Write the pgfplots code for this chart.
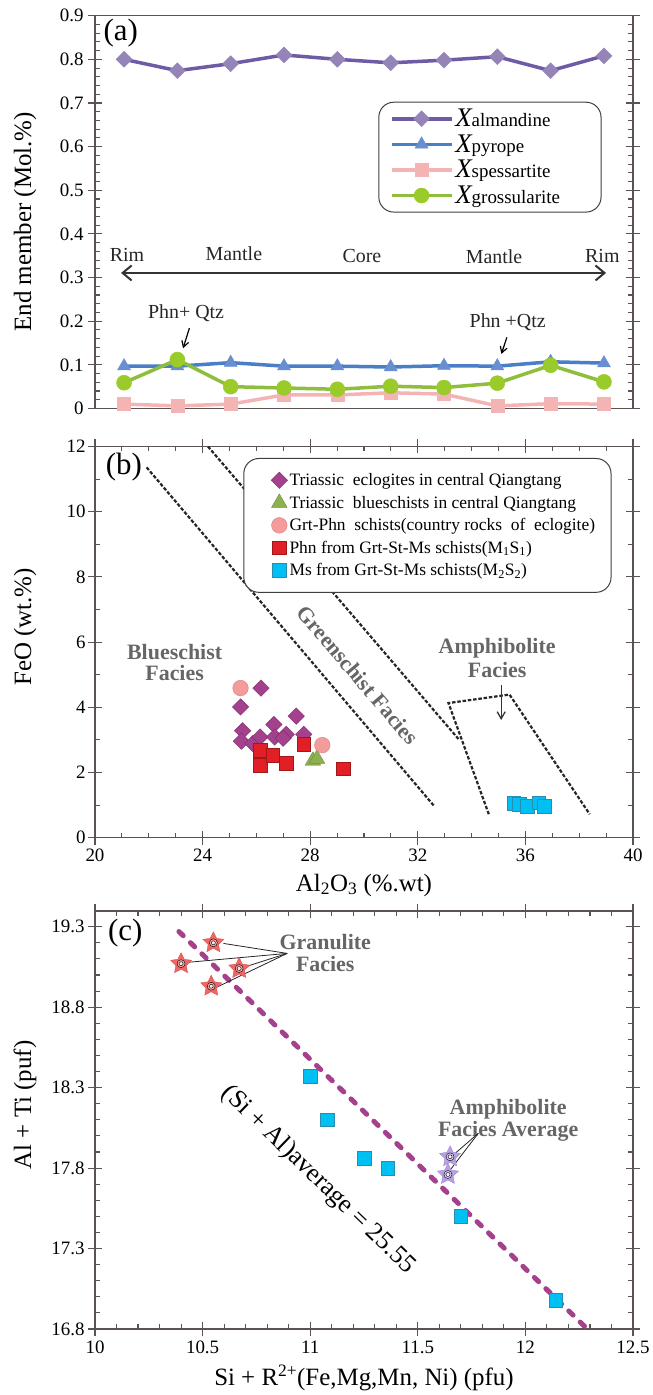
\documentclass[border=0pt]{standalone}
\usepackage{fontspec}
\setmainfont{Liberation Serif}
\usepackage{pgfplots}
\pgfplotsset{compat=1.18}
\usetikzlibrary{arrows.meta}

\definecolor{almL}{HTML}{6E5BA5}
\definecolor{almM}{HTML}{9584B8}
\definecolor{pyrL}{HTML}{4A7EC6}
\definecolor{pyrM}{HTML}{6A8FD1}
\definecolor{spe}{HTML}{F4B4B4}
\definecolor{groL}{HTML}{8FBE3C}
\definecolor{groM}{HTML}{9ACB2A}
\definecolor{framec}{HTML}{5A5352}
\definecolor{ecl}{HTML}{A3418D}
\definecolor{eclD}{HTML}{7E2F6E}
\definecolor{blu}{HTML}{8DB050}
\definecolor{grt}{HTML}{F49C9C}
\definecolor{grtD}{HTML}{D98080}
\definecolor{phn}{HTML}{E21F26}
\definecolor{phnD}{HTML}{A01818}
\definecolor{msc}{HTML}{00BFF2}
\definecolor{mscD}{HTML}{2A8DB0}
\definecolor{facies}{HTML}{666666}
\definecolor{fitline}{HTML}{A4408C}
\definecolor{starR}{HTML}{EE6666}
\definecolor{starRD}{HTML}{DE5050}
\definecolor{starRM}{HTML}{F5A2A2}
\definecolor{starRL}{HTML}{FDE8E8}
\definecolor{starP}{HTML}{B8A0E4}
\definecolor{starPD}{HTML}{A088CE}
\definecolor{starPM}{HTML}{D6C8F2}
\definecolor{starPL}{HTML}{F7F3FD}

\pgfdeclareplotmark{fstar}{%
 \pgfpathmoveto{\pgfpointpolar{90}{\pgfplotmarksize}}%
 \pgfpathlineto{\pgfpointpolar{126}{0.5\pgfplotmarksize}}%
 \pgfpathlineto{\pgfpointpolar{162}{\pgfplotmarksize}}%
 \pgfpathlineto{\pgfpointpolar{198}{0.5\pgfplotmarksize}}%
 \pgfpathlineto{\pgfpointpolar{234}{\pgfplotmarksize}}%
 \pgfpathlineto{\pgfpointpolar{270}{0.5\pgfplotmarksize}}%
 \pgfpathlineto{\pgfpointpolar{306}{\pgfplotmarksize}}%
 \pgfpathlineto{\pgfpointpolar{342}{0.5\pgfplotmarksize}}%
 \pgfpathlineto{\pgfpointpolar{18}{\pgfplotmarksize}}%
 \pgfpathlineto{\pgfpointpolar{54}{0.5\pgfplotmarksize}}%
 \pgfpathclose
 \pgfusepathqfillstroke}

\pgfplotsset{
  every axis/.append style={
    scale only axis, width=538bp,
    axis line style={framec, line width=1.2bp},
    tick style={framec, line width=1.1bp},
    tick align=inside, major tick length=7bp, minor tick length=5bp,
    tick label style={font=\fontsize{19}{21}\selectfont},
    label style={font=\fontsize{25}{27}\selectfont},
    /pgf/number format/assume math mode=true,
    extra tick style={tick align=outside},
  },
}

\begin{document}
\begin{tikzpicture}
\path[use as bounding box] (0,0) rectangle (653bp,1395bp);

% ---------------- panel (a)
\begin{axis}[
  at={(95bp,986.5bp)}, anchor=south west, height=392.8bp,
  xmin=0.455, xmax=10.545, ymin=0, ymax=0.9,
  xtick=\empty,
  ytick={0,0.1,0.2,0.3,0.4,0.5,0.6,0.7,0.8,0.9},
  yticklabels={0,0.1,0.2,0.3,0.4,0.5,0.6,0.7,0.8,0.9},
  minor y tick num=4,
  extra y ticks={0,0.1,0.2,0.3,0.4,0.5,0.6,0.7,0.8,0.9},
  extra y tick labels={},
  yticklabel style={xshift=-8bp},
  ylabel={End member (Mol.\%)},
  ylabel style={at={(axis description cs:-0.13,0.4755)}, anchor=center},
  legend cell align=left,
  legend style={at={(axis description cs:0.5266,0.781)}, anchor=north west,
    draw=black!75, line width=1bp, rounded corners=15bp,
    inner xsep=11bp, inner ysep=5bp, row sep=2.5bp,
    font=\fontsize{19}{19}\selectfont,
    legend image code/.code={\draw[sharp corners,mark repeat=2,mark phase=2,#1] plot coordinates {(0bp,0bp)(30bp,0bp)(60bp,0bp)};}},
]
\addplot[almL, line width=3.5bp, mark=square*, mark size=5.6bp,
  mark options={rotate=45, fill=almM, draw=almM, line width=0.5bp}]
  coordinates {(1,0.800)(2,0.774)(3,0.790)(4,0.810)(5,0.800)(6,0.792)(7,0.798)(8,0.806)(9,0.774)(10,0.808)};
\addlegendentry{{\fontsize{27}{27}\selectfont\itshape X}almandine}
\addplot[pyrL, line width=3.5bp, mark=triangle*, mark size=7.5bp,
  mark options={fill=pyrM, draw=pyrM, line width=0.5bp}]
  coordinates {(1,0.097)(2,0.097)(3,0.105)(4,0.097)(5,0.097)(6,0.095)(7,0.098)(8,0.097)(9,0.107)(10,0.104)};
\addlegendentry{{\fontsize{27}{27}\selectfont\itshape X}pyrope}
\addplot[spe, line width=3.5bp, mark=square*, mark size=6.5bp,
  mark options={fill=spe, draw=spe, line width=0.5bp}]
  coordinates {(1,0.010)(2,0.006)(3,0.010)(4,0.031)(5,0.031)(6,0.036)(7,0.033)(8,0.006)(9,0.011)(10,0.010)};
\addlegendentry{{\fontsize{27}{27}\selectfont\itshape X}spessartite}
\addplot[groL, line width=3.5bp, mark=*, mark size=7.5bp,
  mark options={fill=groM, draw=groM, line width=0.5bp}]
  coordinates {(1,0.059)(2,0.112)(3,0.050)(4,0.047)(5,0.044)(6,0.051)(7,0.048)(8,0.058)(9,0.099)(10,0.061)};
\addlegendentry{{\fontsize{27}{27}\selectfont\itshape X}grossularite\rule{28bp}{0pt}}

\node[font=\fontsize{31}{31}\selectfont] at (axis cs:0.936,0.86) {(a)};
\begin{scope}[every node/.style={font=\fontsize{20}{22}\selectfont, text=black!85}]
\node at (axis cs:1.056,0.352) {Rim};
\node at (axis cs:3.06,0.354) {Mantle};
\node at (axis cs:5.46,0.350) {Core};
\node at (axis cs:7.94,0.347) {Mantle};
\node at (axis cs:9.97,0.350) {Rim};
\node at (axis cs:2.163,0.218) {Phn+ Qtz};
\node at (axis cs:8.195,0.197) {Phn +Qtz};
\end{scope}
\draw[{Straight Barb[length=9bp,width=15bp]}-{Straight Barb[length=9bp,width=15bp]}, line width=2bp, black!80]
  (axis cs:0.944,0.3105) -- (axis cs:10.04,0.3105);
\draw[-{Straight Barb[length=6bp,width=7bp]}, line width=1.2bp] (axis cs:2.225,0.184) -- (axis cs:2.107,0.138);
\draw[-{Straight Barb[length=6bp,width=7bp]}, line width=1.2bp] (axis cs:8.18,0.163) -- (axis cs:8.077,0.125);
\end{axis}

% ---------------- panel (b)
\begin{axis}[
  at={(95bp,557.3bp)}, anchor=south west, height=391.2bp,
  xmin=20, xmax=40, ymin=0, ymax=12,
  xtick={20,24,28,32,36,40}, minor x tick num=3,
  ytick={0,2,4,6,8,10,12}, minor y tick num=1,
  extra x ticks={20,24,28,32,36,40}, extra x tick labels={},
  extra y ticks={0,2,4,6,8,10,12}, extra y tick labels={},
  xticklabel style={yshift=-8bp},
  yticklabel style={xshift=-6bp},
  xlabel={Al\textsubscript{2}O\textsubscript{3} (\%.wt)},
  xlabel style={at={(axis description cs:0.5,-0.121)}, anchor=center},
  ylabel={FeO (wt.\%)},
  ylabel style={at={(axis description cs:-0.13,0.539)}, anchor=center},
  legend cell align=left,
  legend style={at={(axis description cs:0.2757,0.9706)}, anchor=north west,
    draw=black!75, line width=1bp, rounded corners=15bp,
    inner xsep=14bp, inner ysep=13bp, row sep=4.8bp,
    font=\fontsize{17.5}{18}\selectfont,
    legend image code/.code={\path (-21bp,0bp); \draw[sharp corners,#1] plot coordinates {(0bp,0bp)};}},
]
\addplot[forget plot, black!85, line width=2.2bp, dash pattern=on 3.5bp off 1.8bp]
  coordinates {(21.92,11.36)(32.63,0.95)};
\addplot[forget plot, black!85, line width=2.2bp, dash pattern=on 3.5bp off 1.8bp]
  coordinates {(24.2,12)(33.55,2.99)};
\addplot[forget plot, black!85, line width=2.2bp, dash pattern=on 3.5bp off 1.8bp]
  coordinates {(34.64,0.72)(33.14,4.13)(35.41,4.39)(38.39,0.72)};

\addplot[only marks, mark=square*, mark size=5.8bp,
  mark options={rotate=45, fill=ecl, draw=eclD, line width=0.4bp}]
  coordinates {(26.17,4.59)(25.41,4.01)(25.49,3.28)(25.44,2.96)(25.87,2.89)(26.14,3.09)
               (26.65,3.47)(26.68,3.09)(27.11,3.17)(26.99,3.05)(27.48,3.73)(27.76,3.17)};
\addlegendentry{Triassic~ eclogites in central Qiangtang}
\addplot[only marks, mark=triangle*, mark size=9bp,
  mark options={fill=blu, draw=blu!80!black, line width=0.4bp}]
  coordinates {(28.1,2.36)(28.25,2.42)};
\addlegendentry{Triassic~ blueschists in central Qiangtang}
\addplot[only marks, mark=*, mark size=7.8bp,
  mark options={fill=grt, draw=grtD, line width=0.4bp}]
  coordinates {(25.41,4.59)(28.45,2.84)};
\addlegendentry{Grt-Phn~ schists(country rocks~ of~ eclogite)}
\addplot[only marks, mark=square*, mark size=6.8bp,
  mark options={fill=phn, draw=phnD, line width=0.4bp}]
  coordinates {(26.14,2.68)(26.14,2.22)(26.6,2.53)(27.11,2.28)(27.76,2.87)(29.23,2.12)};
\addlegendentry{Phn from Grt-St-Ms schists(M\textsubscript{1}S\textsubscript{1})}
\addplot[only marks, mark=square*, mark size=6.8bp,
  mark options={fill=msc, draw=mscD, line width=0.4bp}]
  coordinates {(35.56,1.05)(35.76,1.03)(36.07,0.97)(36.49,1.07)(36.69,0.97)};
\addlegendentry{Ms from Grt-St-Ms schists(M\textsubscript{2}S\textsubscript{2})}

\node[font=\fontsize{31}{31}\selectfont] at (axis cs:21.07,11.37) {(b)};
\begin{scope}[every node/.style={font=\fontsize{22}{24}\selectfont\bfseries, text=facies}]
\node at (axis cs:22.96,5.71) {Blueschist};
\node at (axis cs:22.96,5.04) {Facies};
\node at (axis cs:34.95,5.81) {Amphibolite};
\node at (axis cs:34.95,5.14) {Facies};
\node[rotate=-49.6] at (axis cs:29.77,4.99) {Greenschist Facies};
\end{scope}
\draw[-{Straight Barb[length=7bp,width=8bp]}, line width=1.3bp, black!80]
  (axis cs:35.1,4.68) -- (axis cs:35.1,3.61);
\end{axis}

% ---------------- panel (c)
\begin{axis}[
  at={(95bp,66bp)}, anchor=south west, height=418bp,
  xmin=10, xmax=12.5, ymin=16.8, ymax=19.3976,
  xtick={10,10.5,11,11.5,12,12.5}, minor x tick num=4,
  ytick={16.8,17.3,17.8,18.3,18.8,19.3}, minor y tick num=4,
  extra x ticks={10,10.5,11,11.5,12,12.5}, extra x tick labels={},
  extra y ticks={16.8,17.3,17.8,18.3,18.8,19.3}, extra y tick labels={},
  xticklabel style={yshift=-8bp},
  yticklabel style={xshift=-7bp, /pgf/number format/fixed, /pgf/number format/fixed zerofill, /pgf/number format/precision=1},
  xlabel={Si + R\textsuperscript{2+}(Fe,Mg,Mn, Ni) (pfu)},
  xlabel style={at={(axis description cs:0.5,-0.116)}, anchor=center},
  ylabel={Al + Ti (puf)},
  ylabel style={at={(axis description cs:-0.13,0.536)}, anchor=center},
]
\addplot[fitline, line width=5bp, line cap=round, dash pattern=on 6bp off 10bp]
  coordinates {(10.39,19.27)(12.28,16.81)};
\addplot[only marks, mark=square*, mark size=6.8bp,
  mark options={fill=msc, draw=mscD, line width=0.4bp}]
  coordinates {(11.0,18.37)(11.08,18.10)(11.25,17.86)(11.36,17.80)(11.70,17.50)(12.14,16.98)};
\addplot[only marks, mark=fstar, mark size=11bp,
  mark options={fill=starR, draw=starRD, line width=0.4bp}]
  coordinates {(10.55,19.20)(10.40,19.07)(10.67,19.04)(10.54,18.93)};
\addplot[only marks, mark=*, mark size=4bp,
  mark options={fill=starRM, draw=none}]
  coordinates {(10.55,19.20)(10.40,19.07)(10.67,19.04)(10.54,18.93)};
\addplot[only marks, mark=*, mark size=2bp,
  mark options={fill=starRL, draw=none}]
  coordinates {(10.55,19.20)(10.40,19.07)(10.67,19.04)(10.54,18.93)};
\addplot[only marks, mark=fstar, mark size=11bp,
  mark options={fill=starP, draw=starPD, line width=0.4bp}]
  coordinates {(11.65,17.87)(11.64,17.76)};
\addplot[only marks, mark=*, mark size=4bp,
  mark options={fill=starPM, draw=none}]
  coordinates {(11.65,17.87)(11.64,17.76)};
\addplot[only marks, mark=*, mark size=2bp,
  mark options={fill=starPL, draw=none}]
  coordinates {(11.65,17.87)(11.64,17.76)};

\node[font=\fontsize{31}{31}\selectfont] at (axis cs:10.141,19.259) {(c)};
\begin{scope}[every node/.style={font=\fontsize{22}{24}\selectfont\bfseries, text=facies}]
\node at (axis cs:11.07,19.207) {Granulite};
\node at (axis cs:11.07,19.07) {Facies};
\node at (axis cs:11.92,18.165) {Amphibolite};
\node at (axis cs:11.92,18.026) {Facies Average};
\end{scope}
\draw[line width=0.8bp, black!85] (axis cs:10.893,19.134) -- (axis cs:10.597,19.196);
\draw[line width=0.8bp, black!85] (axis cs:10.893,19.134) -- (axis cs:10.41,19.076);
\draw[line width=0.8bp, black!85] (axis cs:10.893,19.134) -- (axis cs:10.676,19.041);
\draw[line width=0.8bp, black!85] (axis cs:10.893,19.134) -- (axis cs:10.564,18.923);
\draw[line width=0.8bp, black!85] (axis cs:11.781,18.016) -- (axis cs:11.656,17.871);
\draw[line width=0.8bp, black!85] (axis cs:11.781,18.016) -- (axis cs:11.636,17.763);
\node[rotate=-44, font=\fontsize{26}{28}\selectfont] at (axis cs:11.037,17.726) {(Si + Al)average = 25.55};
\end{axis}
\end{tikzpicture}
\end{document}
